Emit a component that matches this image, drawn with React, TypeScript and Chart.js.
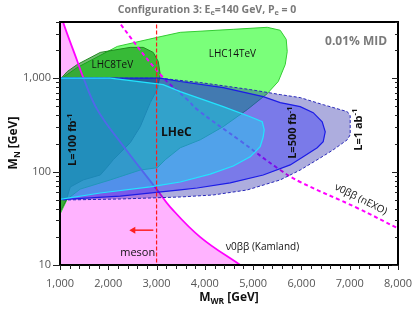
import React, { useEffect, useRef } from 'react';
import { Chart, registerables } from 'chart.js';

Chart.register(...registerables);

type P = [number, number];

// ---- axes ----
const xMin = 1000;
const xMax = 8000;
const yMin = 10;
const yMax = 4000;
const xTickLabels = ['1,000', '2,000', '3,000', '4,000', '5,000', '6,000', '7,000', '8,000'];
const xTickValues = [1000, 2000, 3000, 4000, 5000, 6000, 7000, 8000];
const yTickLabels = ['10', '100', '1,000'];
const yTickValues = [10, 100, 1000];

// ---- exclusion / sensitivity regions (M_WR [GeV], M_N [GeV]) ----
const kamlandCurve: P[] = [
  [975, 6000], [1058, 4074], [1346, 1589], [1482, 1017], [1772, 461],
  [2290, 194], [3014, 63.5], [3284, 41.7], [3905, 19.9], [4733, 10],
];
const nexoCurve: P[] = [
  [2100, 5000], [2207, 4074], [3077, 1096], [3636, 590], [3843, 461],
  [4733, 214], [5561, 104], [5975, 77.4], [7155, 40.8], [8004, 24.6],
];
const lhc14: P[] = [
  [1000, 35], [1000, 968], [1358, 1303], [2186, 2190], [3014, 2740], [3490, 3100],
  [4587, 3340], [5292, 3510], [5561, 3260], [5685, 2610], [5706, 1935], [5665, 1404],
  [5520, 922], [5292, 684], [4877, 461], [4380, 303], [3904, 219], [3490, 180],
  [3180, 134], [3014, 110], [2662, 104], [2041, 81.5], [1420, 65], [1151, 50.9],
];
const lhc8: P[] = [
  [1000, 36.9], [1000, 968], [1151, 1180], [1358, 1403], [1834, 1890], [2455, 2140],
  [2724, 2140], [2931, 1890], [3035, 1513], [3076, 1096], [3014, 756], [2869, 548],
  [2662, 303], [2455, 204], [2103, 134], [1979, 112], [1834, 92], [1482, 81.5],
  [1213, 68.5], [1130, 49.6],
];
const lheC1ab: P[] = [
  [1000, 1000], [3076, 1000], [3904, 899], [4939, 756], [5561, 668], [5975, 620],
  [6451, 521], [6948, 439], [7010, 397], [7010, 248], [6948, 219], [6658, 171],
  [6389, 140], [5975, 104], [5561, 81.5], [4877, 63.6], [4173, 56.2], [3490, 53.5],
  [2248, 50.9], [1000, 49.6],
];
const lheC500: P[] = [
  [1000, 1000], [3076, 1000], [3490, 922], [4380, 794], [5209, 636], [5561, 548],
  [5975, 497], [6244, 428], [6430, 342], [6493, 267], [6451, 209], [6327, 180],
  [6037, 144], [5768, 118], [5209, 92], [4525, 75.6], [3842, 66.8], [3490, 63.6],
  [2248, 54.7], [1000, 50.2],
];
const lheC100: P[] = [
  [1000, 1000], [2041, 1000], [3138, 855], [3490, 719], [4380, 497], [4939, 387],
  [5188, 342], [5229, 281], [5209, 236], [5146, 185], [4939, 144], [4587, 115],
  [4111, 94], [3490, 77.4], [2869, 68.5], [1834, 59], [1000, 50.5],
];
const mesonLimit = 3000;
const arrowX = [2933, 2518];
const arrowY = 23.6;

const FONT = '"Open Sans", "DejaVu Sans", sans-serif';

type Seg = { t: string; s?: 'sub' | 'sup' };
type Label = { segs: Seg[]; x: number; y: number; size: number; bold?: boolean; color?: string; rot?: number };

const labels: Label[] = [
  { segs: [{ t: 'LHC8TeV' }], x: 2083, y: 1380, size: 10 },
  { segs: [{ t: 'LHC14TeV' }], x: 4570, y: 1797, size: 10 },
  { segs: [{ t: 'LHeC' }], x: 3410, y: 261, size: 12, bold: true },
  { segs: [{ t: 'L=100 fb' }, { t: '-1', s: 'sup' }], x: 1275, y: 219, size: 11, bold: true, rot: -90 },
  { segs: [{ t: 'L=500 fb' }, { t: '-1', s: 'sup' }], x: 5830, y: 261, size: 11, bold: true, rot: -90 },
  { segs: [{ t: 'L=1 ab' }, { t: '-1', s: 'sup' }], x: 7195, y: 281, size: 11, bold: true, rot: -90 },
  { segs: [{ t: '0.01% MID' }], x: 7133, y: 2480, size: 12, bold: true, color: '#7a7a7a' },
  { segs: [{ t: 'ν0ββ (Kamland)' }], x: 5191, y: 15.4, size: 10 },
  { segs: [{ t: 'ν0ββ (nEXO)' }], x: 7230, y: 50.5, size: 10, rot: 26.6 },
  { segs: [{ t: 'meson' }], x: 2610, y: 13.6, size: 11 },
];

function pts(p: P[], close = true) {
  const d = p.map(([x, y]) => ({ x, y }));
  if (close) d.push({ x: p[0][0], y: p[0][1] });
  return d;
}

function segFont(size: number, bold: boolean | undefined, s?: string) {
  const sz = s ? size * 0.7 : size;
  return `${bold ? 'bold ' : ''}${sz}px ${FONT}`;
}

function drawRich(ctx: CanvasRenderingContext2D, segs: Seg[], x: number, y: number, size: number, bold?: boolean, color = '#111', rot = 0) {
  ctx.save();
  ctx.translate(x, y);
  ctx.rotate((rot * Math.PI) / 180);
  ctx.fillStyle = color;
  ctx.textBaseline = 'middle';
  ctx.textAlign = 'left';
  let w = 0;
  for (const s of segs) {
    ctx.font = segFont(size, bold, s.s);
    w += ctx.measureText(s.t).width;
  }
  let cx = -w / 2;
  for (const s of segs) {
    ctx.font = segFont(size, bold, s.s);
    const dy = s.s === 'sub' ? size * 0.3 : s.s === 'sup' ? -size * 0.35 : 0;
    ctx.fillText(s.t, cx, dy);
    cx += ctx.measureText(s.t).width;
  }
  ctx.restore();
}

const decorPlugin = {
  id: 'decor',
  afterDatasetsDraw(chart: any) {
    const ctx: CanvasRenderingContext2D = chart.ctx;
    const xs = chart.scales.x;
    const ys = chart.scales.y;
    const a = chart.chartArea;
    ctx.save();
    ctx.beginPath();
    ctx.rect(a.left, a.top, a.right - a.left, a.bottom - a.top);
    ctx.clip();
    for (const l of labels) {
      drawRich(ctx, l.segs, xs.getPixelForValue(l.x), ys.getPixelForValue(l.y), l.size, l.bold, l.color || '#111', l.rot || 0);
    }
    ctx.restore();

    ctx.save();
    ctx.strokeStyle = '#000';
    ctx.lineWidth = 2;
    ctx.strokeRect(a.left, a.top, a.right - a.left, a.bottom - a.top);
    ctx.lineWidth = 1;
    ctx.strokeStyle = '#222';
    ctx.beginPath();
    for (let v = xMin; v <= xMax; v += 200) {
      const px = Math.round(xs.getPixelForValue(v)) + 0.5;
      const len = v % 1000 === 0 ? 5 : 4;
      ctx.moveTo(px, a.bottom);
      ctx.lineTo(px, a.bottom + len);
    }
    for (let dec = 10; dec <= 1000; dec *= 10) {
      for (let m = 1; m <= 9; m++) {
        const v = dec * m;
        if (v < yMin || v > yMax) continue;
        const py = Math.round(ys.getPixelForValue(v)) + 0.5;
        const major = m === 1;
        ctx.moveTo(a.left, py);
        ctx.lineTo(a.left - (major ? 7 : 4), py);
        ctx.moveTo(a.right, py);
        ctx.lineTo(a.right - (major ? 6 : 3), py);
      }
    }
    ctx.stroke();
    ctx.fillStyle = '#555';
    ctx.font = `11px ${FONT}`;
    ctx.textBaseline = 'middle';
    ctx.textAlign = 'center';
    xTickValues.forEach((v, i) => ctx.fillText(xTickLabels[i], xs.getPixelForValue(v), a.bottom + 19));
    ctx.textAlign = 'right';
    yTickValues.forEach((v, i) => ctx.fillText(yTickLabels[i], a.left - 9, ys.getPixelForValue(v)));
    ctx.restore();

    drawRich(ctx, [{ t: 'Configuration 3: E' }, { t: 'e', s: 'sub' }, { t: '=140 GeV, P' }, { t: 'e', s: 'sub' }, { t: ' = 0' }], 207, 10, 10.5, true, '#7a7a7a');
    drawRich(ctx, [{ t: 'M' }, { t: 'WR', s: 'sub' }, { t: ' [GeV]' }], (a.left + a.right) / 2, 298, 12, true, '#111');
    drawRich(ctx, [{ t: 'M' }, { t: 'N', s: 'sub' }, { t: ' [GeV]' }], 14, 143, 12, true, '#111', -90);
  },
};

export default function App() {
  const ref = useRef<HTMLCanvasElement>(null);
  useEffect(() => {
    document.body.style.margin = '0';
    const line = { showLine: true, pointRadius: 0, tension: 0, clip: 0 };
    const chart = new Chart(ref.current as HTMLCanvasElement, {
      type: 'scatter',
      data: {
        datasets: [
          { ...line, data: pts([[mesonLimit, 1], [mesonLimit, 10000]], false), borderColor: '#ff1a1a', borderWidth: 1.2, borderDash: [4, 2], fill: false, order: 1 },
          {
            ...line,
            data: arrowX.map((x) => ({ x, y: arrowY })),
            borderColor: '#ff2020', borderWidth: 1.5, fill: false, order: 1,
            pointRadius: [0, 4], pointStyle: 'triangle', pointRotation: 270,
            pointBackgroundColor: '#ff2020', pointBorderWidth: 0,
          },
          { ...line, data: pts(lheC100), borderColor: '#22e4ff', borderWidth: 1.2, backgroundColor: 'rgba(30,210,235,0.45)', fill: 'shape', order: 2 },
          { ...line, data: pts(lheC500), borderColor: '#1c1ce6', borderWidth: 1.2, backgroundColor: 'rgba(30,30,255,0.35)', fill: 'shape', order: 3 },
          { ...line, data: pts(lheC1ab), borderColor: '#2828b8', borderWidth: 1, borderDash: [3, 2], backgroundColor: 'rgba(20,20,160,0.35)', fill: 'shape', order: 4 },
          { ...line, data: pts(nexoCurve, false), borderColor: '#ff00ff', borderWidth: 2, borderDash: [4, 3], tension: 0.4, fill: false, order: 5 },
          { ...line, data: pts(kamlandCurve, false), borderColor: '#ff00ff', borderWidth: 1.8, tension: 0.4, fill: false, order: 6 },
          { ...line, data: pts(lhc8), borderColor: '#1f8a1f', borderWidth: 1, backgroundColor: 'rgba(0,130,0,0.55)', fill: 'shape', order: 7 },
          { ...line, data: pts(lhc14), borderColor: '#33cc33', borderWidth: 1, backgroundColor: 'rgba(0,255,0,0.52)', fill: 'shape', order: 8 },
          { ...line, data: pts(kamlandCurve, false), borderWidth: 0, tension: 0.4, backgroundColor: '#ffb3ff', fill: 'start', order: 9 },
        ] as any,
      },
      options: {
        responsive: false,
        animation: false,
        layout: { padding: { left: 60, right: 17, top: 22, bottom: 53 } },
        scales: {
          x: { type: 'linear', min: xMin, max: xMax, display: false },
          y: { type: 'logarithmic', min: yMin, max: yMax, display: false },
        },
        plugins: { legend: { display: false }, tooltip: { enabled: false } },
      } as any,
      plugins: [decorPlugin],
    });
    return () => chart.destroy();
  }, []);
  return (
    <div style={{ width: 415, height: 318 }}>
      <canvas ref={ref} width={415} height={318} style={{ display: 'block' }} />
    </div>
  );
}
